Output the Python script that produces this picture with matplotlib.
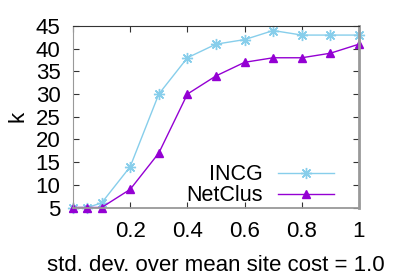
import matplotlib.pyplot as plt

plt.rcParams['font.family'] = ['Liberation Sans', 'DejaVu Sans']

# std. dev. over mean site cost
x = [0, 0.05, 0.1, 0.2, 0.3, 0.4, 0.5, 0.6, 0.7, 0.8, 0.9, 1.0]
incg = [5, 5, 6, 14, 30, 38, 41, 42, 44, 43, 43, 43]
netclus = [5, 5, 5, 9, 17, 30, 34, 37, 38, 38, 39, 41]

xticks = [0, 0.2, 0.4, 0.6, 0.8, 1]
xticklabels = ['', '0.2', '0.4', '0.6', '0.8', '1']
yticks = [5, 10, 15, 20, 25, 30, 35, 40, 45]

fig = plt.figure(figsize=(3.99, 2.79), dpi=100)
ax = fig.add_axes([73 / 399, 1 - 207.5 / 279, (359 - 73) / 399, (207.5 - 26) / 279])

ax.plot(x, incg, color='#87ceeb', linewidth=1, marker=(8, 2, 0), markersize=8,
        markeredgewidth=1, label='INCG', clip_on=False)
ax.plot(x, netclus, color='#9400d3', linewidth=1, marker='^', markersize=6,
        label='NetClus', clip_on=False)

ax.set_xlim(0, 1)
ax.set_ylim(5, 45)
ax.set_xticks(xticks)
ax.set_xticklabels(xticklabels)
ax.set_yticks(yticks)
ax.tick_params(direction='in', top=True, right=True, labelsize=16, length=4,
               width=0.8, color='#333333')
ax.tick_params(axis='x', pad=10)
ax.tick_params(axis='y', pad=9)

for side in ['left', 'bottom', 'right']:
    ax.spines[side].set_color('#999999')
ax.spines['right'].set_linewidth(2)
ax.spines['bottom'].set_linewidth(1.3)
ax.spines['top'].set_color('#333333')

ax.set_xlabel('std. dev. over mean site cost = 1.0', fontsize=16, labelpad=9)
ax.set_ylabel('k', fontsize=16, labelpad=5)

ax.legend(loc='lower right', bbox_to_anchor=(0.966, -0.075), markerfirst=False,
          frameon=False, fontsize=15.5, handlelength=2.6, handletextpad=0.7,
          labelspacing=0.0, borderaxespad=0.3)

fig.savefig('out.png', dpi=100)
